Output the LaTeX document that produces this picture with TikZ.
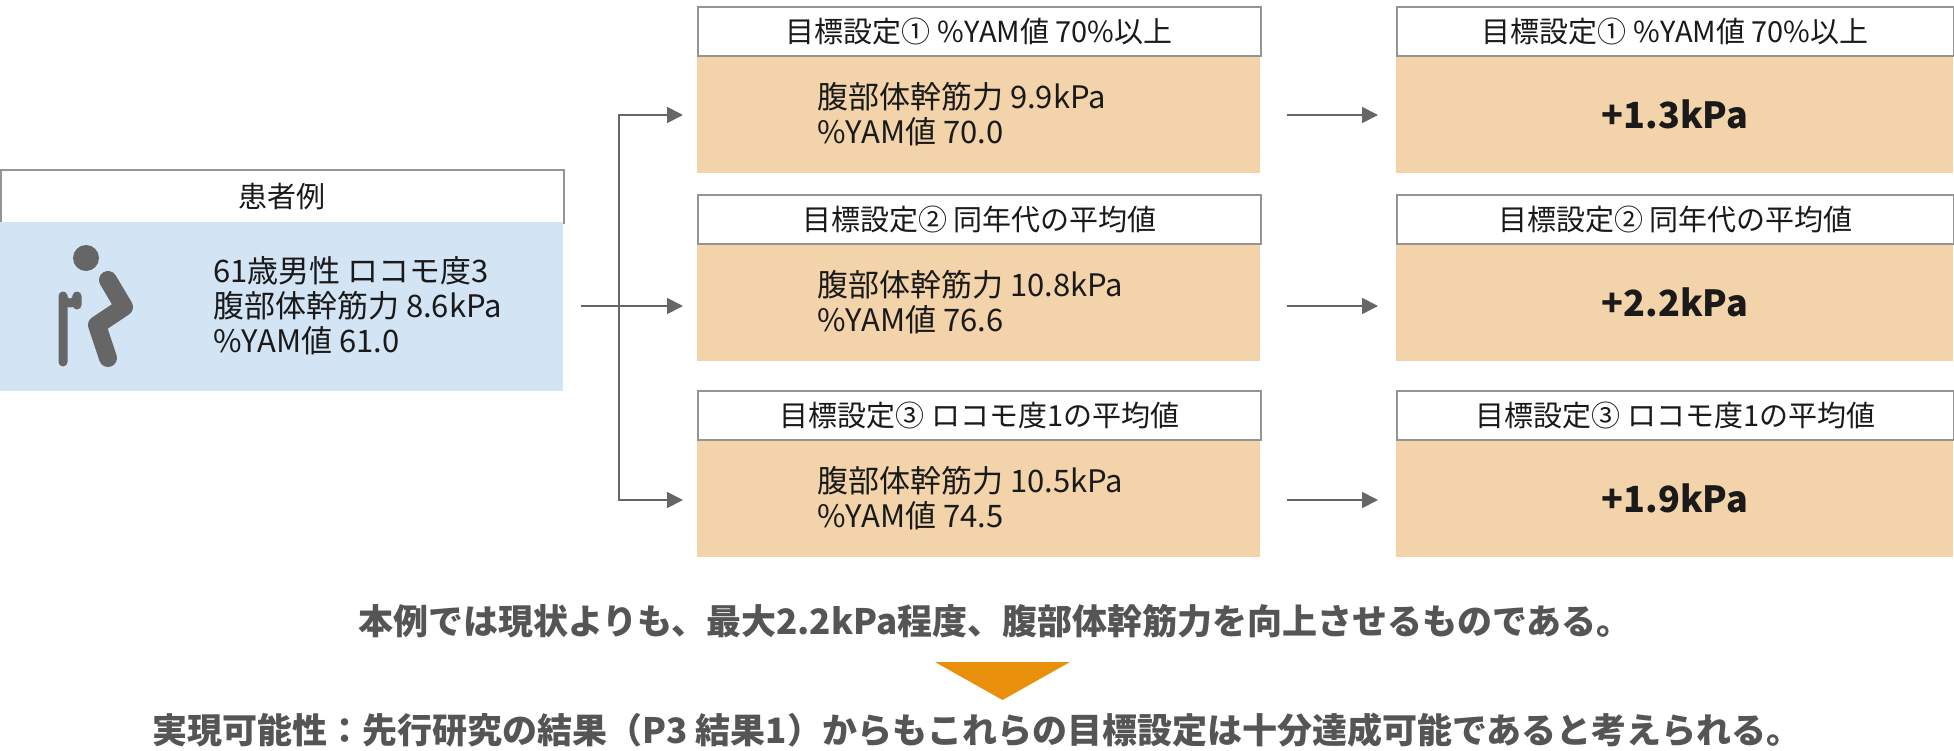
\documentclass[tikz,border=0pt]{standalone}
\usepackage{fontspec}
\setmainfont{Noto Sans CJK JP}
\usetikzlibrary{arrows.meta}
\definecolor{tx}{HTML}{1A1A1A}
\definecolor{gr}{HTML}{555555}
\definecolor{ln}{HTML}{666666}
\definecolor{bl}{HTML}{D3E4F5}
\definecolor{or}{HTML}{F2D3AA}
\definecolor{tri}{HTML}{E8900C}
\tikzset{
 hdr/.style={draw=ln!70,line width=0.8pt,fill=white,minimum height=24.5pt,inner sep=0pt,font=\fontsize{14.5}{16}\selectfont,text=tx},
 bodyb/.style={fill=or,draw=none,minimum height=59pt,inner sep=0pt,text=tx},
 conn/.style={draw=ln,line width=0.9pt,-{Triangle[length=8pt,width=8pt]}},
 ic/.style={draw=ln,line cap=round,line join=round},
 res/.style={font=\fontsize{18}{20}\selectfont\bfseries,text=tx},
 foot/.style={font=\fontsize{17.5}{19}\selectfont\bfseries,text=gr}
}
\begin{document}
\begin{tikzpicture}[x=0.5pt,y=-0.5pt]
\useasboundingbox (0,0) rectangle (1954,750);
% patient
\node[hdr,minimum width=281.5pt,minimum height=26.5pt,anchor=north west] (ph) at (0,169) {患者例};
\node[fill=bl,minimum width=281.5pt,minimum height=84.5pt,inner sep=0pt,anchor=north west] (pb) at (0,222) {};
\node[anchor=west,align=left,font=\fontsize{15.5}{17.5}\selectfont,text=tx] (pt) at (206,306) {61歳男性 ロコモ度3\\腹部体幹筋力 8.6kPa\\\%YAM値 61.0};
% icon
\fill[ln] (86,258) circle (13);
\draw[ic,line width=9pt] (108,280) -- (124,307) -- (97,325) -- (108,358);
\draw[ic,line width=4.5pt] (63,362) -- (63,296) arc[start angle=180,end angle=0,radius=7] -- (77,305);
% middle column
\foreach \i/\y/\t/\a/\b in {1/6/{目標設定① \%YAM値 70\%以上}/9.9kPa/70.0,2/194/{目標設定② 同年代の平均値}/10.8kPa/76.6,3/390/{目標設定③ ロコモ度1の平均値}/10.5kPa/74.5}{
 \node[bodyb,minimum width=281.5pt,anchor=north west] (mb\i) at (697,\y+49) {};
 \node[hdr,minimum width=281.5pt,anchor=north west] (mh\i) at (697,\y) {\t};
 \node[anchor=west,align=left,font=\fontsize{15.5}{17.5}\selectfont,text=tx] (mt\i) at (810,\y+108) {腹部体幹筋力 \a\\\%YAM値 \b};
 \node[bodyb,minimum width=278.5pt,anchor=north west] (rb\i) at (1396,\y+49) {};
 \node[hdr,minimum width=278.5pt,anchor=north west] (rh\i) at (1396,\y) {\t};
}
\node[res] (r1) at (rb1) {+1.3kPa};
\node[res] (r2) at (rb2) {+2.2kPa};
\node[res] (r3) at (rb3) {+1.9kPa};
% connectors
\coordinate (s) at (581,306);
\coordinate (j) at (619,306);
\coordinate (e1) at (683,115);
\coordinate (e2) at (683,306);
\coordinate (e3) at (683,500);
\draw[conn] (s) -- (e2);
\draw[conn] (j) |- (e1);
\draw[conn] (j) |- (e3);
\foreach \i/\y in {1/115,2/306,3/500}{
 \coordinate (a\i) at (1287,\y);
 \coordinate (b\i) at (1378,\y);
 \draw[conn] (a\i) -- (b\i);
}
% bottom
\node[foot] (t1) at (995,621) {本例では現状よりも、最大2.2kPa程度、腹部体幹筋力を向上させるものである。};
\fill[tri] (935,662) -- (1070,662) -- (1002.5,700) -- cycle;
\node[foot] (t2) at (977,730) {実現可能性：先行研究の結果（P3 結果1）からもこれらの目標設定は十分達成可能であると考えられる。};
\end{tikzpicture}
\end{document}
